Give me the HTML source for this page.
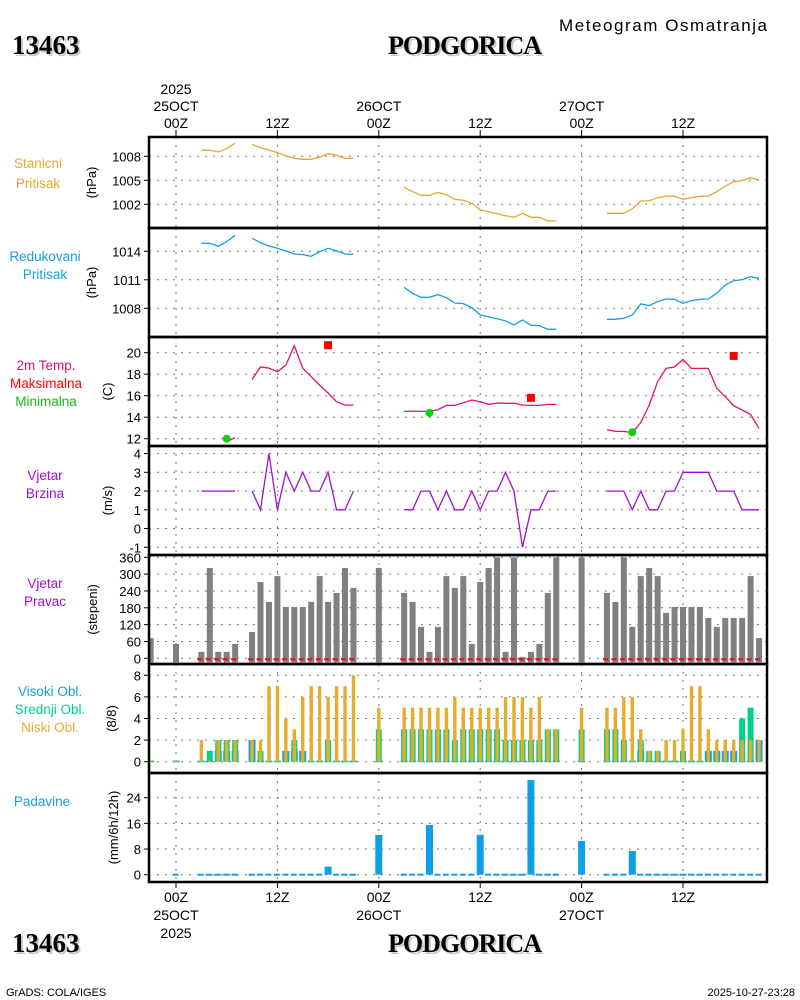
<!DOCTYPE html>
<html><head><meta charset="utf-8"><style>
html,body{margin:0;padding:0;background:#fff;}
svg{display:block;}
text{font-family:"Liberation Sans",sans-serif;}
</style></head><body>
<svg id="chart" xmlns="http://www.w3.org/2000/svg" width="800" height="1000" viewBox="0 0 800 1000">
<rect x="0" y="0" width="800" height="1000" fill="#fff"/>
<g>
<text x="14" y="56" style="font-family:'Liberation Serif',serif" font-weight="bold" font-size="27" fill="#c2d2c2">13463</text>
<text x="12" y="54" style="font-family:'Liberation Serif',serif" font-weight="bold" font-size="27" fill="#000">13463</text>
<text x="467" y="56" text-anchor="middle" style="font-family:'Liberation Serif',serif" font-weight="bold" font-size="26" fill="#c2d2c2" textLength="154">PODGORICA</text>
<text x="465" y="54" text-anchor="middle" style="font-family:'Liberation Serif',serif" font-weight="bold" font-size="26" fill="#000" textLength="154">PODGORICA</text>
<text x="663" y="31" text-anchor="middle" font-size="17" fill="#000" textLength="208">Meteogram Osmatranja</text>
</g>
<g>
<text x="14" y="954" style="font-family:'Liberation Serif',serif" font-weight="bold" font-size="27" fill="#c2d2c2">13463</text>
<text x="12" y="952" style="font-family:'Liberation Serif',serif" font-weight="bold" font-size="27" fill="#000">13463</text>
<text x="467" y="954" text-anchor="middle" style="font-family:'Liberation Serif',serif" font-weight="bold" font-size="26" fill="#c2d2c2" textLength="154">PODGORICA</text>
<text x="465" y="952" text-anchor="middle" style="font-family:'Liberation Serif',serif" font-weight="bold" font-size="26" fill="#000" textLength="154">PODGORICA</text>
<text x="6" y="996" font-size="11" fill="#000">GrADS: COLA/IGES</text>
<text x="795" y="996" text-anchor="end" font-size="11" fill="#000">2025-10-27-23:28</text>
</g>
<g id="layer"></g>
</svg>
<script>
const n = null;
// hours relative to 25OCT 00Z, index i -> hour i-3
const hourStart = -3, hourCount = 74;
const stanicni = [n,n,n,n,n,n, 1008.75,1008.75,1008.54,1008.96,1009.63, n,
 1009.5,1009.08,1008.79,1008.46,1008.08,1007.75,1007.63,1007.63,1007.88,1008.33,1008.13,1007.75,1007.75, n,n,n,n,n,
 1004.13,1003.58,1003.13,1003.13,1003.5,1003.17,1002.63,1002.5,1002.13,1001.29,1001.08,1000.83,1000.58,1000.38,1000.88,1000.38,1000.38,999.92,999.92, n,n,n,n,n,
 1000.88,1000.88,1000.88,1001.42,1002.42,1002.42,1002.83,1003.04,1003.0,1002.63,1002.83,1003.0,1003.04,1003.58,1004.29,1004.83,1004.96,1005.33,1005.08, n];
const redukovani = [n,n,n,n,n,n, 1014.84,1014.84,1014.53,1015.02,1015.68, n,
 1015.37,1014.91,1014.56,1014.32,1014.04,1013.72,1013.65,1013.47,1013.96,1014.32,1014.04,1013.72,1013.68, n,n,n,n,n,
 1010.21,1009.58,1009.16,1009.16,1009.44,1009.12,1008.56,1008.49,1008.07,1007.3,1007.12,1006.91,1006.67,1006.25,1006.77,1006.21,1006.18,1005.79,1005.79, n,n,n,n,n,
 1006.84,1006.84,1006.95,1007.3,1008.46,1008.28,1008.7,1008.98,1008.95,1008.53,1008.81,1008.95,1008.98,1009.58,1010.46,1010.91,1011.02,1011.33,1011.16, n];
const temp2m = [n,n,n,n,n,n,n,n,n, 11.7,12.1, n,
 17.52,18.67,18.57,18.23,18.85,20.65,18.54,17.77,16.99,16.25,15.44,15.13,15.13, n,n,n,n,n,
 14.54,14.57,14.54,14.54,14.7,15.1,15.1,15.35,15.6,15.44,15.19,15.32,15.29,15.29,15.13,15.1,15.1,15.19,15.19, n,n,n,n,n,
 12.84,12.68,12.68,12.56,13.52,15.13,17.3,18.54,18.67,19.38,18.54,18.54,18.54,16.68,15.91,15.07,14.67,14.26,12.96, n];
const maxHours = [18, 42, 66];
const maxTemps = [20.7, 15.8, 19.7];
const minHours = [6, 30, 54];
const minTemps = [12.0, 14.4, 12.6];
const windSpeed = [n,n,n,n,n,n, 2,2,2,2,2, n,
 2,1,4,1,3,2,3,2,2,3,1,1,2, n,n,n,n,n,
 1,1,2,2,1,2,1,1,2,1,2,2,3,2,-1,1,1,2,2, n,n,n,n,n,
 2,2,2,1,2,1,1,2,2,3,3,3,3,2,2,2,1,1,1, n];
const windDir = [72,n,n,51,n,n, 23,322,23,23,51, n,
 94,272,201,293,183,183,183,201,293,201,233,322,251, n,n, 322, n,n,
 233,201,112,23,112,293,251,293,51,272,322,360,23,360,5,23,51,233,360, n,n, 360, n,n,
 233,201,360,112,293,322,293,162,183,183,183,183,144,112,144,144,144,293,72, n];
const cloudLow = [0,n,n,0,n,n, 2,0,2,2,2, n,
 2,2,7,7,4,3,6,7,7,6,7,7,8, n,n, 5, n,n,
 5,5,5,5,5,5,6,5,5,5,5,5,6,6,6,5,6,3,3, n,n, 5, n,n,
 5,5,6,6,3,1,1,2,2,3,7,7,3,2,2,2,2,2,2, n];
const cloudMid = [0,n,n,0,n,n, 0,1,2,2,2, n,
 0,1,0,0,0,2,0,0,0,2,0,0,0, n,n, 3, n,n,
 3,3,3,3,3,3,2,3,3,3,3,3,2,2,2,2,2,3,3, n,n, 3, n,n,
 3,3,2,0,2,1,1,0,0,1,0,0,0,0,0,0,4,5,0, n];
const cloudHigh = [0,n,n,0,n,n, 0,0,1,1,1, n,
 2,0,0,0,1,1,1,0,0,0,0,0,0, n,n, 0, n,n,
 0,0,0,0,0,0,0,0,0,0,0,0,0,0,0,0,0,0,0, n,n, 0, n,n,
 0,0,0,0,1,0,0,0,0,0,0,0,1,1,1,1,0,0,2, n];
const precip = [n,n,n,0,n,n, 0,0,0,0,0, n,
 0,0,0,0,0,0,0,0,0,2.5,0,0,0, n,n, 12.4, n,n,
 0,0,0,15.5,0,0,0,0,0,12.4,0,0,0,0,0,29.5,0,0,0, n,n, 10.5, n,n,
 0,0,0,7.4,0,0,0,0,0,0,0,0,0,0,0,0,0,0,0, n];
const gridHours = [0, 12, 24, 36, 48, 60];
const topDayLabels = ["2025\n25OCT\n00Z", "12Z", "26OCT\n00Z", "12Z", "27OCT\n00Z", "12Z"];
const bottomDayLabels = ["00Z\n25OCT\n2025", "12Z", "00Z\n26OCT", "12Z", "00Z\n27OCT", "12Z"];
const ticksP1 = [1008, 1005, 1002];
const ticksP2 = [1014, 1011, 1008];
const ticksP3 = [20, 18, 16, 14, 12];
const ticksP4 = [4, 3, 2, 1, 0, -1];
const ticksP5 = [0, 60, 120, 180, 240, 300, 360];
const ticksP6 = [0, 2, 4, 6, 8];
const ticksP7 = [0, 8, 16, 24];

const NS = "http://www.w3.org/2000/svg";
const layer = document.getElementById('layer');
const X0 = 149, X1 = 767;
function xh(h){ return 176 + h*8.45; }
function mk(tag, attrs, parent){
  const e = document.createElementNS(NS, tag);
  for (const k in attrs) e.setAttribute(k, attrs[k]);
  (parent||layer).appendChild(e); return e;
}
function linY(v0, y0, v1, y1){ return v => y0 + (v - v0)*(y1 - y0)/(v1 - v0); }

const panels = [
  {top:137, bot:228, y: linY(1008,156.3,1002,204.3), ticks: ticksP1, name:'station-pressure', unit:'(hPa)', unitX:92},
  {top:228, bot:337, y: linY(1014,251.3,1008,308.3), ticks: ticksP2, name:'reduced-pressure', unit:'(hPa)', unitX:92},
  {top:337, bot:446, y: linY(20,352.7,12,438.7), ticks: ticksP3, name:'temperature', unit:'(C)', unitX:108},
  {top:446, bot:555, y: linY(3,472.3,-1,547.3), ticks: ticksP4, name:'wind-speed', unit:'(m/s)', unitX:108},
  {top:555, bot:664, y: linY(0,658.3,360,557.3), ticks: ticksP5, name:'wind-direction', unit:'(stepeni)', unitX:93},
  {top:664, bot:773, y: linY(0,761.7,8,675.3), ticks: ticksP6, name:'cloud-cover', unit:'(8/8)', unitX:112},
  {top:773, bot:882, y: linY(0,874.7,24,797.7), ticks: ticksP7, name:'precipitation', unit:'(mm/6h/12h)', unitX:114}
];

panels.forEach((p, pi) => {
  const g = mk('g', {});
  
  
  p.g = g;
  gridHours.forEach(h => {
    const l = mk('line', {x1:xh(h), x2:xh(h), y1:p.top, y2:p.bot, stroke:'#777', 'stroke-width':1, 'stroke-dasharray':'2,6'}, g);
    
    
  });
  p.ticks.forEach(t => {
    const yy = p.y(t);
    const l = mk('line', {x1:X0, x2:X1, y1:yy, y2:yy, stroke:'#777', 'stroke-width':1, 'stroke-dasharray':'2,6'}, g);
    
    
    const tk = mk('line', {x1:X0-5, x2:X0, y1:yy, y2:yy, stroke:'#000', 'stroke-width':1}, g);
    
    
    const tx = mk('text', {x:141, y:yy+5, 'text-anchor':'end', 'font-size':13, fill:'#000'}, g);
    
    
    tx.textContent = t;
  });
  const ut = mk('text', {x:p.unitX, y:(p.top+p.bot)/2, 'text-anchor':'middle', 'font-size':13, fill:'#000', transform:`rotate(-90 ${p.unitX} ${(p.top+p.bot)/2})`, dy:'4'}, g);
  
  
  ut.textContent = p.unit;
});

function seriesLine(arr, p, color, name){
  let d = '', pen = false;
  arr.forEach((v, i) => {
    if (v === null) { pen = false; return; }
    const h = i + hourStart;
    d += (pen ? 'L' : 'M') + xh(h).toFixed(1) + ' ' + p.y(v).toFixed(1);
    pen = true;
  });
  const e = mk('path', {d:d, fill:'none', stroke:color, 'stroke-width':1.3}, p.g);
  
  
}
seriesLine(stanicni, panels[0], '#e6a72e', 'station-pressure-line');
seriesLine(redukovani, panels[1], '#14a0e2', 'reduced-pressure-line');
seriesLine(temp2m, panels[2], '#e4126c', 'temperature-line');
seriesLine(windSpeed, panels[3], '#a010d0', 'wind-speed-line');

maxHours.forEach((h, i) => {
  const e = mk('rect', {x:xh(h)-4, y:panels[2].y(maxTemps[i])-4, width:8, height:8, fill:'#f00'}, panels[2].g);
  
  
});
minHours.forEach((h, i) => {
  const e = mk('circle', {cx:xh(h), cy:panels[2].y(minTemps[i]), r:4, fill:'#10d010'}, panels[2].g);
  
  
});

// wind direction bars
windDir.forEach((v, i) => {
  if (v === null) return;
  const h = i + hourStart, p = panels[4];
  const yt = p.y(v), yb = p.y(0);
  const x = Math.max(X0, xh(h)-3);
  const e = mk('rect', {x:x, y:yt, width:xh(h)+3-x, height:Math.max(0.5, yb-yt+4), fill:'#808080'}, p.g);
  
  
});
windSpeed.forEach((v, i) => {
  if (v === null) return;
  const h = i + hourStart, p = panels[4];
  const e = mk('line', {x1:xh(h)-4, x2:xh(h)+1, y1:p.y(0)+1, y2:p.y(0)+1, stroke:'#f00', 'stroke-width':2}, p.g);
  
  
});

// clouds
function cloudBars(arr, halfW, color, name){
  const p = panels[5];
  arr.forEach((v, i) => {
    if (v === null) return;
    const h = i + hourStart;
    const x = Math.max(X0, xh(h)-halfW);
    const yt = p.y(v), yb = p.y(0);
    const e = mk('rect', {x:x, y:v>0?yt:yb-1, width:xh(h)+halfW-x, height:v>0?yb-yt:1.5, fill:color}, p.g);
    
    
  });
}
cloudBars(cloudHigh, 3.5, '#14a0e2', 'high-cloud-bar');
cloudBars(cloudMid, 3, '#00d08a', 'mid-cloud-bar');
cloudBars(cloudLow, 1.7, '#e6ac2e', 'low-cloud-bar');

// precipitation
precip.forEach((v, i) => {
  if (v === null) return;
  const h = i + hourStart, p = panels[6];
  const yt = p.y(v), yb = p.y(0);
  const e = mk('rect', {x:xh(h)-3.5, y:v>0?yt:yb-1, width:v>0?7:6, height:v>0?yb-yt:2, fill:'#0ea0e6'}, p.g);
  
  
});

// frames
panels.forEach(p => {
  const f = mk('rect', {x:X0, y:p.top, width:X1-X0, height:p.bot-p.top, fill:'none', stroke:'#000', 'stroke-width':2.5});
  
  
});

// time axis labels
gridHours.forEach((h, i) => {
  const tk = mk('line', {x1:xh(h), x2:xh(h), y1:130, y2:137, stroke:'#000'});
  
  
  const lines = topDayLabels[i].split('\n');
  lines.forEach((s, k) => {
    const t = mk('text', {x:xh(h), y:128 - (lines.length-1-k)*17, 'text-anchor':'middle', 'font-size':14, fill:'#000'});
    
    
    t.textContent = s;
  });
  const bk = mk('line', {x1:xh(h), x2:xh(h), y1:882, y2:888, stroke:'#000'});
  
  
  bottomDayLabels[i].split('\n').forEach((s, k) => {
    const t = mk('text', {x:xh(h), y:902 + k*18, 'text-anchor':'middle', 'font-size':14, fill:'#000'});
    
    
    t.textContent = s;
  });
});

// left legend labels
const legendTexts = ["Stanicni","Pritisak","Redukovani","Pritisak","2m Temp.","Maksimalna","Minimalna","Vjetar","Brzina","Vjetar","Pravac","Visoki Obl.","Srednji Obl.","Niski Obl.","Padavine"];
const legendColors = ["#e6a72e","#e6a72e","#14a0e2","#14a0e2","#e4126c","#f00","#10c010","#a010d0","#a010d0","#a010d0","#a010d0","#14a0e2","#00d08a","#e6ac2e","#14a0e2"];
const legendY = [168,188,261,279,370,388,406,480,498,588,606,696,714,732,806];
const legendX = [38,38,45,45,46,46,46,45,45,45,45,50,50,50,42];
legendTexts.forEach((s, i) => {
  const t = mk('text', {x:legendX[i], y:legendY[i], 'text-anchor':'middle', 'font-size':13.5, fill:legendColors[i]});
  
  
  t.textContent = s;
});
</script>
</body></html>
